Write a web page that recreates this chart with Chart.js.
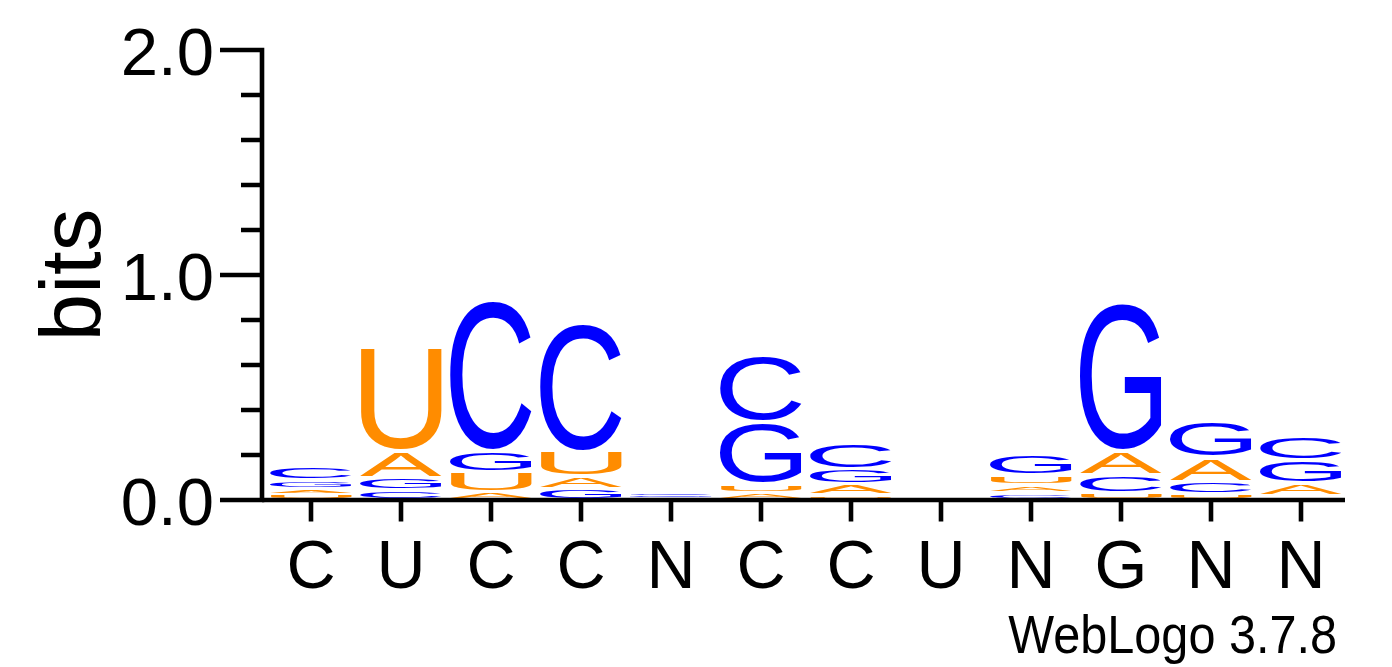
<!DOCTYPE html>
<html lang="en">
<head>
  <meta charset="UTF-8">
  <title>Sequence logo</title>
  <style>
    html, body { margin: 0; padding: 0; background: #fff; }
    canvas { display: block; }
  </style>
</head>
<body>
  <canvas id="logo" width="1392" height="667"></canvas>

  <script src="https://cdn.jsdelivr.net/npm/chart.js"></script>
  <script>
    // consensus letter under each column
    const positions = ['C', 'U', 'C', 'C', 'N', 'C', 'C', 'U', 'N', 'G', 'N', 'N'];

    // information content (bits) of each nucleotide per column
    const bitsA = [0.026, 0.118, 0.036, 0.058, 0.005, 0.030, 0.047, 0.002, 0.035, 0.107, 0.109, 0.053];
    const bitsC = [0.065, 0.045, 0.671, 0.573, 0.009, 0.295, 0.115, 0.002, 0.030, 0.078, 0.055, 0.110];
    const bitsG = [0.040, 0.054, 0.093, 0.048, 0.008, 0.275, 0.067, 0.002, 0.094, 0.659, 0.162, 0.104];
    const bitsU = [0.022, 0.460, 0.089, 0.111, 0.005, 0.041, 0.024, 0.002, 0.047, 0.032, 0.026, 0.020];

    const yTicks = [0, 0.2, 0.4, 0.6, 0.8, 1.0, 1.2, 1.4, 1.6, 1.8, 2.0];
    const yLabels = ['0.0', '1.0', '2.0'];

    const colours = { A: '#ff8c00', U: '#ff8c00', C: '#0000ff', G: '#0000ff' };
    const FONT = '"Liberation Sans", Arial, sans-serif';

    // stack letters smallest at the bottom, so datasets are "ranks" not letters
    const table = { A: bitsA, C: bitsC, G: bitsG, U: bitsU };
    const rankLetters = [[], [], [], []];
    const rankValues = [[], [], [], []];
    positions.forEach((p, i) => {
      const col = Object.keys(table).map(k => ({ k: k, v: table[k][i] }));
      col.sort((a, b) => a.v - b.v);
      col.forEach((c, r) => {
        rankLetters[r].push(c.k);
        rankValues[r].push(c.v);
      });
    });

    function drawGlyph(ctx, ch, x, y, w, h) {
      if (h <= 0.3) return;
      // weblogo leaves a small gap around every glyph
      let gh = h > 5 ? h - 3.6 : h * 0.4;
      y += (h - gh) / 2;
      ctx.save();
      ctx.font = '100px ' + FONT;
      ctx.textAlign = 'left';
      ctx.textBaseline = 'alphabetic';
      const m = ctx.measureText(ch);
      const inkW = m.actualBoundingBoxLeft + m.actualBoundingBoxRight;
      const inkH = m.actualBoundingBoxAscent + m.actualBoundingBoxDescent;
      ctx.translate(x, y);
      ctx.scale(w / inkW, gh / inkH);
      ctx.fillStyle = colours[ch];
      ctx.fillText(ch, m.actualBoundingBoxLeft, m.actualBoundingBoxAscent);
      ctx.restore();
    }

    const logoPlugin = {
      id: 'logoLetters',
      afterDatasetsDraw(chart) {
        const ctx = chart.ctx;
        chart.data.datasets.forEach((ds, di) => {
          const meta = chart.getDatasetMeta(di);
          meta.data.forEach((bar, i) => {
            const p = bar.getProps(['x', 'y', 'base', 'width'], true);
            const top = Math.min(p.y, p.base);
            const h = Math.abs(p.base - p.y);
            drawGlyph(ctx, ds.letters[i], p.x - p.width / 2, top, p.width, h);
          });
        });
      },
      afterDraw(chart) {
        const ctx = chart.ctx;
        const xs = chart.scales.x;
        const ys = chart.scales.y;
        const area = chart.chartArea;
        const axisX = area.left - 4;
        const y0 = ys.getPixelForValue(0);
        const yTop = ys.getPixelForValue(2);

        ctx.save();
        ctx.strokeStyle = '#000';
        ctx.fillStyle = '#000';
        ctx.lineWidth = 4.6;
        ctx.lineCap = 'butt';

        // y axis + ticks
        ctx.beginPath();
        ctx.moveTo(axisX, yTop - 2.3);
        ctx.lineTo(axisX, y0 + 2.3);
        yTicks.forEach(t => {
          const py = ys.getPixelForValue(t);
          const major = Math.abs(t - Math.round(t)) < 1e-6;
          ctx.moveTo(major ? axisX - 42 : axisX - 21, py);
          ctx.lineTo(axisX + 2.3, py);
        });
        ctx.stroke();

        ctx.font = '67px ' + FONT;
        ctx.textAlign = 'right';
        ctx.textBaseline = 'alphabetic';
        yLabels.forEach(l => {
          ctx.fillText(l, 214, ys.getPixelForValue(parseFloat(l)) + 24.5);
        });

        // x axis + ticks
        ctx.beginPath();
        ctx.moveTo(axisX, y0);
        ctx.lineTo(area.right - 1, y0);
        positions.forEach((p, i) => {
          const px = xs.getPixelForValue(i);
          ctx.moveTo(px, y0);
          ctx.lineTo(px, y0 + 21.5);
        });
        ctx.stroke();

        ctx.font = '68px ' + FONT;
        ctx.textAlign = 'center';
        positions.forEach((p, i) => {
          ctx.fillText(p, xs.getPixelForValue(i), 588);
        });

        // axis title
        ctx.save();
        ctx.translate(100, ys.getPixelForValue(1));
        ctx.rotate(-Math.PI / 2);
        ctx.font = '85px ' + FONT;
        ctx.textAlign = 'center';
        ctx.fillText('bits', 0, 0);
        ctx.restore();

        // footer, helvetica in the original runs a bit narrower
        ctx.save();
        ctx.translate(1337, 653);
        ctx.scale(0.9, 1);
        ctx.font = '54px ' + FONT;
        ctx.textAlign = 'right';
        ctx.fillText('WebLogo 3.7.8', 0, 0);
        ctx.restore();
        ctx.restore();
      }
    };

    const ctx = document.getElementById('logo').getContext('2d');
    new Chart(ctx, {
      type: 'bar',
      data: {
        labels: positions,
        datasets: rankValues.map((vals, r) => ({
          label: 'rank ' + r,
          data: vals,
          letters: rankLetters[r],
          backgroundColor: 'rgba(0,0,0,0)',
          borderWidth: 0,
          categoryPercentage: 1,
          barPercentage: 0.91
        }))
      },
      options: {
        responsive: false,
        animation: false,
        devicePixelRatio: 1,
        layout: { padding: { left: 266, right: 46, top: 50, bottom: 167 } },
        scales: {
          x: { stacked: true, display: false },
          y: { stacked: true, display: false, min: 0, max: 2 }
        },
        plugins: {
          legend: { display: false },
          tooltip: { enabled: false }
        }
      },
      plugins: [logoPlugin]
    });
  </script>
</body>
</html>
